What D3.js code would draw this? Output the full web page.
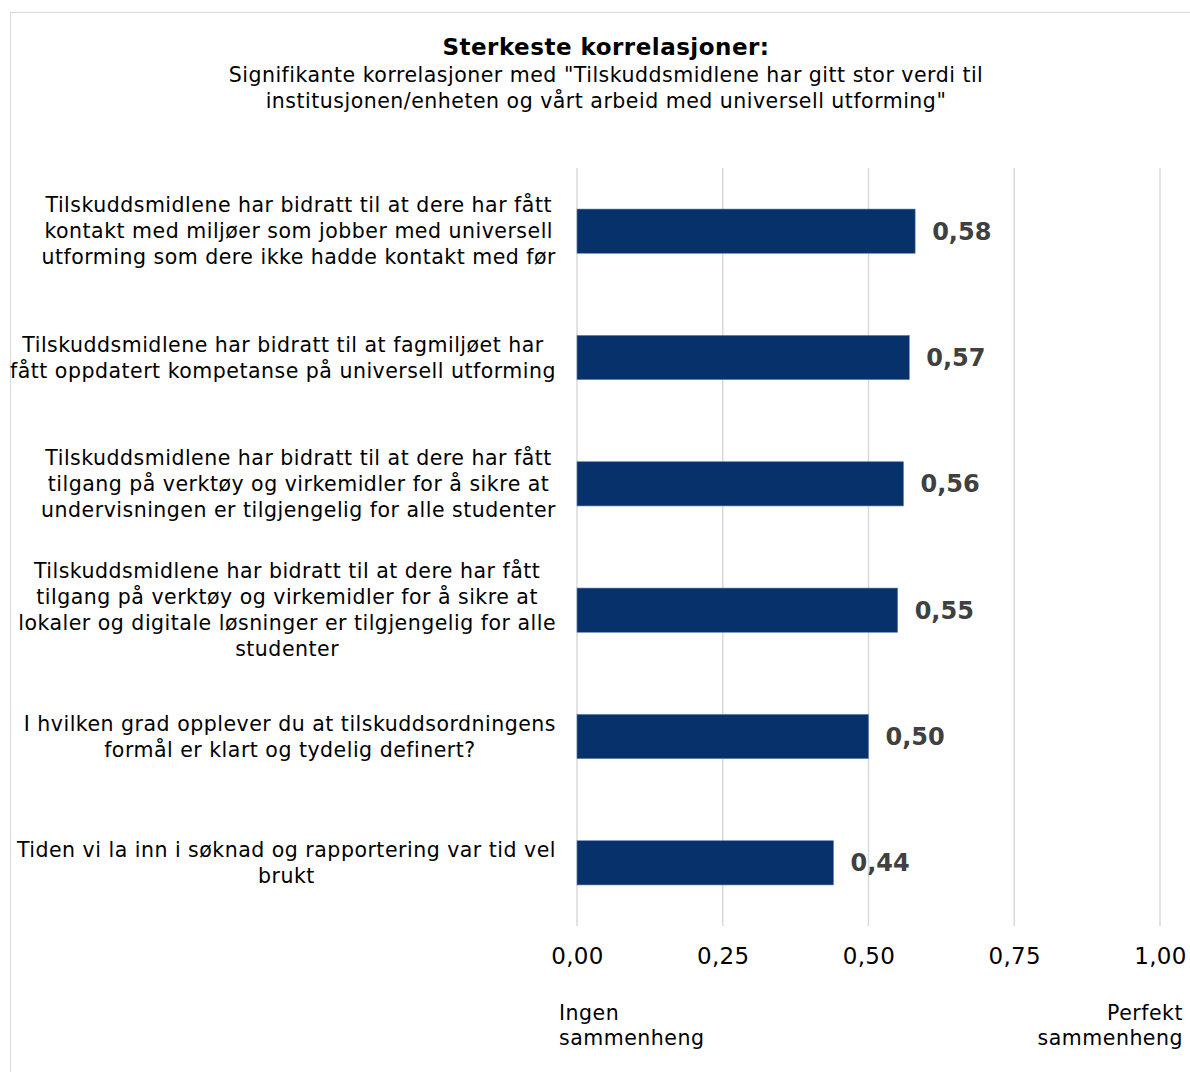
<!DOCTYPE html>
<html>
<head>
<meta charset="utf-8">
<script src="https://cdn.jsdelivr.net/npm/d3@7"></script>
<style>
  body { margin: 0; background: #fff; }
  svg { display: block; font-family: "DejaVu Sans", Verdana, sans-serif; }
</style>
</head>
<body>
<div id="chart"></div>
<script>
// data
const categories = [
  ["Tilskuddsmidlene har bidratt til at dere har fått", "kontakt med miljøer som jobber med universell", "utforming som dere ikke hadde kontakt med før"],
  ["Tilskuddsmidlene har bidratt til at fagmiljøet har", "fått oppdatert kompetanse på universell utforming"],
  ["Tilskuddsmidlene har bidratt til at dere har fått", "tilgang på verktøy og virkemidler for å sikre at", "undervisningen er tilgjengelig for alle studenter"],
  ["Tilskuddsmidlene har bidratt til at dere har fått", "tilgang på verktøy og virkemidler for å sikre at", "lokaler og digitale løsninger er tilgjengelig for alle", "studenter"],
  ["I hvilken grad opplever du at tilskuddsordningens", "formål er klart og tydelig definert?"],
  ["Tiden vi la inn i søknad og rapportering var tid vel", "brukt"]
]
const values = [0.58, 0.57, 0.56, 0.55, 0.50, 0.44]
const ticks = [0, 0.25, 0.5, 0.75, 1]
const title = "Sterkeste korrelasjoner:"
const subtitle = ["Signifikante korrelasjoner med \"Tilskuddsmidlene har gitt stor verdi til", "institusjonen/enheten og vårt arbeid med universell utforming\""]

const W = 1190, H = 1072
const margin = {top: 168, left: 577, right: 30, bottom: 146}
const width = 1160 - margin.left
const height = H - margin.top - margin.bottom

const fmt = v => d3.format(".2f")(v).replace(".", ",")

const svg = d3.select("#chart")
  .append("svg")
    .attr("width", W)
    .attr("height", H)

// frame
svg.append("rect")
  .attr("x", 10.5).attr("y", 12.5)
  .attr("width", W).attr("height", H)
  .attr("fill", "none")
  .attr("stroke", "#d9d9d9")

// title
svg.append("text")
  .attr("x", 606).attr("y", 55)
  .attr("text-anchor", "middle")
  .style("font-size", "23px").style("font-weight", "bold")
  .style("letter-spacing", "0.5px")
  .text(title)

svg.append("g").selectAll("text")
  .data(subtitle)
  .join("text")
    .attr("x", 606).attr("y", (d, i) => 82 + i * 26)
    .attr("text-anchor", "middle")
    .style("font-size", "20.5px")
    .style("letter-spacing", "0.5px")
    .text(d => d)

const g = svg.append("g")
  .attr("transform", `translate(${margin.left},${margin.top})`)

const x = d3.scaleLinear()
  .domain([0, 1])
  .range([0, width])

const y = d3.scaleBand()
  .domain(d3.range(categories.length))
  .range([0, height])
  .paddingInner(0.65)
  .paddingOuter(0.325)

// grid
g.append("g")
  .selectAll("line")
  .data(ticks)
  .join("line")
    .attr("x1", d => x(d)).attr("x2", d => x(d))
    .attr("y1", 0).attr("y2", height)
    .attr("stroke", "#d9d9d9")
    .attr("stroke-width", 1.5)

// x axis labels
const xAxis = g.append("g")
  .attr("transform", `translate(0,${height})`)
  .call(d3.axisBottom(x).tickValues(ticks).tickFormat(fmt).tickSize(0).tickPadding(22))
xAxis.select(".domain").remove()
xAxis.selectAll("text")
  .style("font-family", "DejaVu Sans, Verdana, sans-serif")
  .style("font-size", "23px")
  .style("letter-spacing", "0.3px")
  .attr("fill", "#000")

// bars
g.append("g")
  .selectAll("rect")
  .data(values)
  .join("rect")
    .attr("x", x(0))
    .attr("y", (d, i) => y(i))
    .attr("width", d => x(d))
    .attr("height", y.bandwidth())
    .attr("fill", "#07316b")
    .attr("stroke", "#5f7fb0")
    .attr("stroke-width", 0.6)

// value labels
g.append("g")
  .selectAll("text")
  .data(values)
  .join("text")
    .attr("x", d => x(d) + 17)
    .attr("y", (d, i) => y(i) + y.bandwidth() / 2)
    .attr("dy", "0.35em")
    .attr("fill", "#404040")
    .style("font-size", "24px").style("font-weight", "bold")
    .text(fmt)

// category labels, centered block right-aligned to the plot
const labelRight = -21
const lineH = 26
categories.forEach((lines, i) => {
  const cy = y(i) + y.bandwidth() / 2
  const t = g.append("text")
    .style("font-size", "20.5px")
    .style("letter-spacing", "0.5px")
    .attr("fill", "#000")
  const spans = lines.map((l, k) => t.append("tspan")
    .attr("y", cy + (k - (lines.length - 1) / 2) * lineH)
    .attr("dy", "0.35em")
    .text(l))
  const maxW = d3.max(spans, s => s.node().getComputedTextLength())
  const cx = labelRight - maxW / 2
  t.attr("text-anchor", "middle")
  spans.forEach(s => s.attr("x", cx))
})

// end notes
const notes = [["Ingen", "sammenheng"], ["Perfekt", "sammenheng"]]
svg.append("g").selectAll("text")
  .data(notes)
  .join("text")
    .attr("text-anchor", (d, i) => i === 0 ? "start" : "end")
    .attr("x", (d, i) => i === 0 ? 559 : 1183)
    .attr("y", 1020)
    .style("font-size", "20.5px")
    .style("letter-spacing", "0.5px")
    .each(function(d) {
      d3.select(this).selectAll("tspan")
        .data(d)
        .join("tspan")
          .attr("x", d3.select(this).attr("x"))
          .attr("dy", (t, k) => k === 0 ? 0 : 25)
          .text(t => t)
    })
</script>
</body>
</html>
